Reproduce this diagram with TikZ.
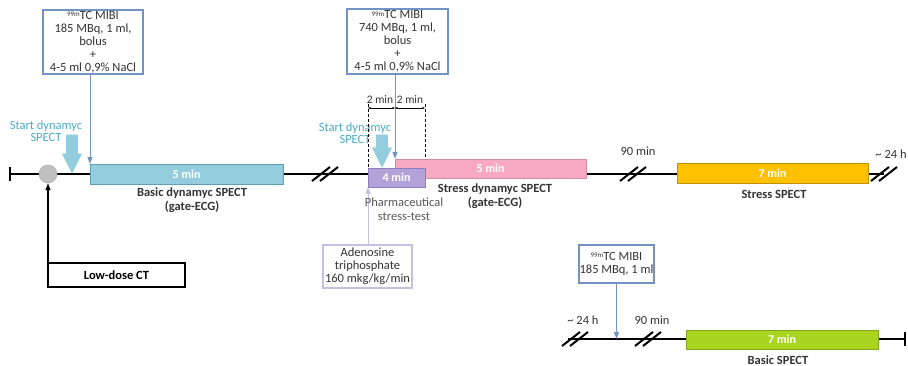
\documentclass[tikz,border=0pt]{standalone}
\usepackage{fontspec}
\setmainfont{Carlito}
\usetikzlibrary{arrows.meta, positioning, calc}
\definecolor{mibiblue}{HTML}{7393C4}
\definecolor{cyanfill}{HTML}{93CDDD}
\definecolor{cyanline}{HTML}{5E9FB5}
\definecolor{startblue}{HTML}{4BACC6}
\definecolor{pinkfill}{HTML}{F7A9C4}
\definecolor{pinkline}{HTML}{D98BA5}
\definecolor{lavfill}{HTML}{B3A2D7}
\definecolor{lavline}{HTML}{8E7CC3}
\definecolor{atpline}{HTML}{C6BEE3}
\definecolor{yellowfill}{HTML}{FFC000}
\definecolor{yellowline}{HTML}{BF9000}
\definecolor{greenfill}{HTML}{A9D41F}
\definecolor{greenline}{HTML}{84A818}
\definecolor{dotgrey}{HTML}{BFBFBF}
\definecolor{dotline}{HTML}{A6A6A6}
\definecolor{labelgrey}{HTML}{595959}
\definecolor{textgrey}{HTML}{333333}
\newcommand{\isot}{{\fontsize{7}{7}\selectfont\raisebox{0.8ex}{99m}}}

\tikzset{
  dosebox/.style={draw=mibiblue, line width=1.2pt, align=center, inner sep=0pt,
    outer sep=0pt, text=textgrey, font=\fontsize{12.5}{13}\selectfont},
  phase/.style={line width=0.8pt, inner sep=0pt, outer sep=0pt, text=white,
    font=\bfseries\fontsize{12}{13}\selectfont},
  lbl/.style={align=center, text=textgrey, font=\bfseries\fontsize{12.5}{14}\selectfont},
  note/.style={align=center, text=textgrey, font=\fontsize{12.5}{14}\selectfont},
  timeline/.style={line width=1.6pt},
  brk/.style={line width=2pt},
  doseline/.style={mibiblue, line width=1pt, -{Triangle[length=7pt,width=5pt]}},
  dimline/.style={densely dashed, thin},
  startshape/.style={fill=cyanfill, draw=startblue!60, line width=0.6pt},
}

\begin{document}
\begin{tikzpicture}[x=1pt, y=-1pt]
\useasboundingbox (0,0) rectangle (908,366);

% time axes
\coordinate (t0) at (9,174);
\coordinate (t1) at (884,174);
\coordinate (b0) at (568,339);
\coordinate (b1) at (906,339);
\draw[timeline, {Bar[width=14pt]}-] (t0) -- (t1);
\draw[timeline, -{Bar[width=14pt]}] (b0) -- (b1);

% axis breaks
\foreach \bx/\by in {325/174, 633/174, 884/174, 575/339, 648/339}
  \foreach \dx in {-4,4}
    \draw[brk] ({\bx+\dx-9},{\by+7}) -- ({\bx+\dx+9},{\by-7});

% acquisition phases
\node[phase, fill=cyanfill, draw=cyanline, minimum width=193, minimum height=20]
  (basicdyn) at (186.5,174) {5 min};
\node[phase, fill=pinkfill, draw=pinkline, minimum width=191, minimum height=19]
  (stressdyn) at (490.5,168.5) {5 min};
\node[phase, fill=lavfill, draw=lavline, minimum width=57, minimum height=19]
  (stresstest) at (396.5,177.5) {4 min};
\node[phase, fill=yellowfill, draw=yellowline, minimum width=191, minimum height=20]
  (stress) at (772.5,173) {7 min};
\node[phase, fill=greenfill, draw=greenline, minimum width=192, minimum height=19]
  (basic) at (782,339.5) {7 min};

% low-dose CT
\node[circle, fill=dotgrey, draw=dotline, minimum size=18, inner sep=0pt] (ctdot) at (48,174) {};
\node[draw, line width=1.4pt, minimum width=137, minimum height=24, inner sep=0pt, outer sep=0pt,
  font=\bfseries\fontsize{12.5}{13}\selectfont] (ct) at (116.5,275) {Low-dose CT};
\draw[line width=1.4pt, -{Triangle[length=7pt,width=5pt]}] (ct.north west) -- (ct.north west |- ctdot.south);

% tracer injections
\node[dosebox, minimum width=100, minimum height=64] (mibiA) at (93,42)
  {\isot TC MIBI\\185 MBq, 1 ml,\\bolus\\+\\4-5 ml 0,9\% NaCl};
\node[dosebox, minimum width=101, minimum height=65] (mibiB) at (397.5,41.5)
  {\isot TC MIBI\\740 MBq, 1 ml,\\bolus\\+\\4-5 ml 0,9\% NaCl};
\node[dosebox, minimum width=75, minimum height=38] (mibiC) at (616.5,264)
  {\isot TC MIBI\\185 MBq, 1 ml};
\draw[doseline] (mibiA.south -| basicdyn.north west) -- (basicdyn.north west);
\draw[doseline] (mibiB.south -| stressdyn.north west) -- (stressdyn.north west);
\draw[doseline] (mibiC.south) -- (mibiC.south |- b0);

% stress agent
\node[dosebox, draw=atpline, minimum width=89, minimum height=43] (atp) at (367.5,266.5)
  {Adenosine\\triphosphate\\160 mkg/kg/min};
\draw[atpline, line width=1pt, -{Triangle[length=7pt,width=5pt]}]
  (atp.north -| stresstest.south west) -- (stresstest.south west);

% start of dynamic acquisition
\node[note, text=startblue, font=\fontsize{12.5}{12}\selectfont] (startA) at (46,131.5) {Start dynamyc\\SPECT};
\node[note, text=startblue, font=\fontsize{12.5}{12}\selectfont] (startB) at (355,133.5) {Start dynamyc\\SPECT};
\foreach \ax/\ay/\tip in {72/135/173, 382/135/167}
  \draw[startshape] ({\ax-5.5},\ay) -- ({\ax+5.5},\ay) -- ({\ax+5.5},{\tip-19})
    -- ({\ax+9.5},{\tip-19}) -- (\ax,\tip) -- ({\ax-9.5},{\tip-19})
    -- ({\ax-5.5},{\tip-19}) -- cycle;

% 2 min + 2 min window
\coordinate (d0) at (368,108);
\coordinate (d1) at (395,108);
\coordinate (d2) at (425,108);
\draw[dimline] ($(d0)+(0,-4)$) -- (stresstest.north west);
\draw[dimline] ($(d2)+(0,-4)$) -- (d2 |- stressdyn.north);
\draw[thin, {Stealth[length=3pt]}-{Stealth[length=3pt]}] (d0) -- (d1);
\draw[thin, {Stealth[length=3pt]}-{Stealth[length=3pt]}] (d1) -- (d2);
\node[note, font=\fontsize{11.5}{13}\selectfont] (dimL) at (380,100) {2 min};
\node[note, font=\fontsize{11.5}{13}\selectfont] (dimR) at (410,100) {2 min};

% labels
\node[lbl] (basicdynlbl) at (192,200) {Basic dynamyc SPECT\\(gate-ECG)};
\node[note, text=labelgrey] (stresstestlbl) at (404,209) {Pharmaceutical\\stress-test};
\node[lbl] (stressdynlbl) at (495,196) {Stress dynamyc SPECT\\(gate-ECG)};
\node[lbl] (stresslbl) at (774,194) {Stress SPECT};
\node[lbl] (basiclbl) at (778,360) {Basic SPECT};
\node[note] (waitA) at (638,151) {90 min};
\node[note] (dayA) at (891,154) {\textasciitilde{} 24 h};
\node[note] (dayB) at (583,320) {\textasciitilde{} 24 h};
\node[note] (waitB) at (652,320) {90 min};
\end{tikzpicture}
\end{document}
